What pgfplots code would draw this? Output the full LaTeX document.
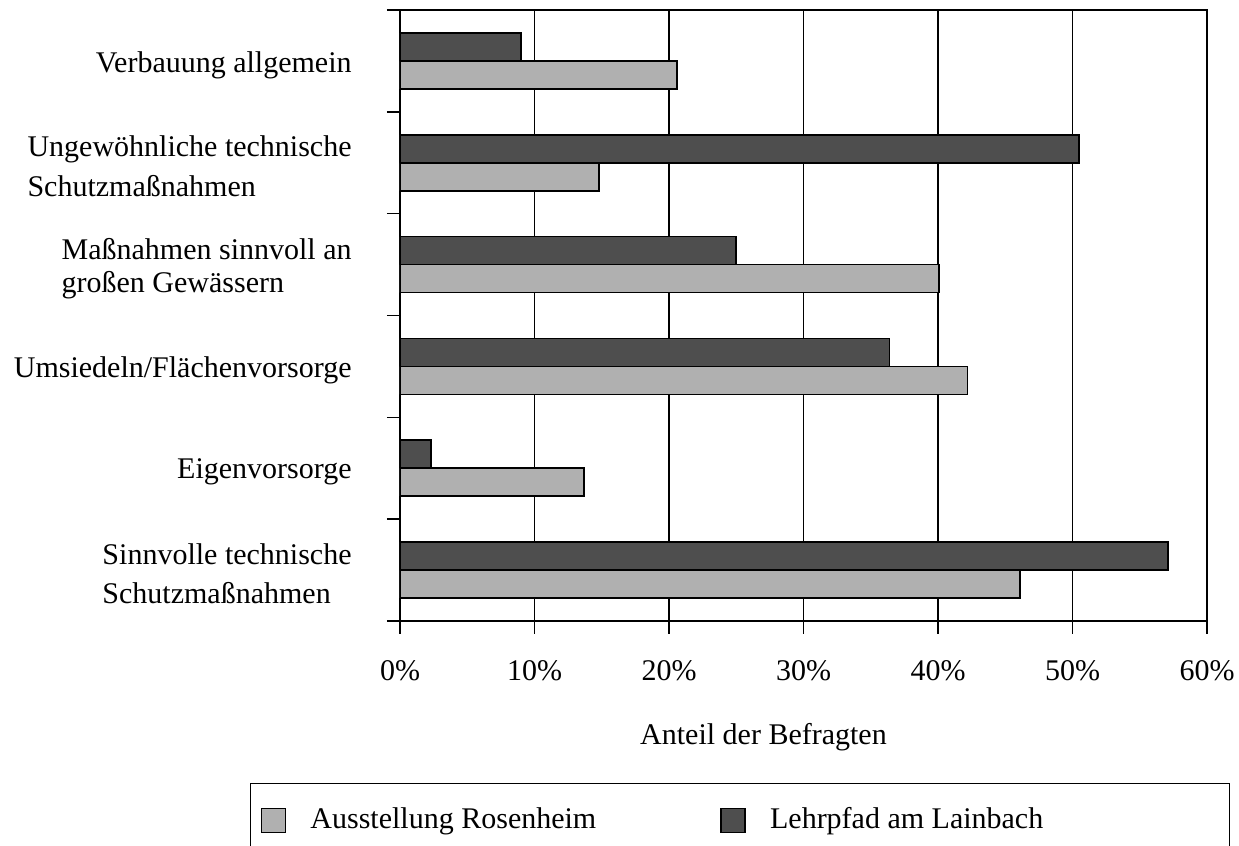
\documentclass[border=0pt]{standalone}
\usepackage{fontspec}
\setmainfont{Liberation Serif}
\usepackage{pgfplots}
\pgfplotsset{compat=1.18}
\definecolor{darkbar}{RGB}{78,78,78}
\definecolor{lightbar}{RGB}{176,176,176}
\pgfplotsset{sqlegend/.style={legend image code/.code={%
  \draw[##1] (0pt,-6pt) rectangle (12pt,6pt);
  \path (22pt,0pt);}}}
\begin{document}
\fontsize{15}{19.5}\selectfont
\begin{tikzpicture}
\begin{axis}[
  name=ax,
  scale only axis, width=403.5pt, height=305.5pt,
  xmin=0, xmax=60, ymin=-0.5, ymax=5.5,
  axis line style={black, line width=0.9pt},
  tick align=outside, tick pos=left,
  major tick length=6.5pt,
  every tick/.style={black, line width=0.8pt},
  xtick={0,10,...,60},
  xticklabels={0\%,10\%,20\%,30\%,40\%,50\%,60\%},
  xticklabel style={yshift=-8pt},
  xmajorgrids,
  major grid style={black, line width=0.7pt},
  ytick={-0.5,0.5,...,5.5},
  yticklabels={},
  extra y ticks={0,1,2,3,4,5},
  extra y tick labels={{Sinnvolle technische\\Schutzmaßnahmen},
    Eigenvorsorge,
    Umsiedeln/Flächenvorsorge,
    {Maßnahmen sinnvoll an\\[-3pt]großen Gewässern},
    {Ungewöhnliche technische\\[0.5pt]Schutzmaßnahmen},
    \raisebox{-6pt}{Verbauung allgemein}},
  extra y tick style={major tick length=0pt, grid=none,
    yticklabel style={align=left, anchor=east, xshift=-19pt, yshift=-2pt}},
  xlabel={Anteil der Befragten},
  xlabel style={xshift=-20pt, yshift=-11pt},
  legend columns=2,
  legend cell align=left,
  legend style={at={(-0.1859,-0.2651)}, anchor=north west,
    draw=black, line width=0.7pt, inner xsep=5pt, inner ysep=10pt,
    /tikz/every even column/.append style={column sep=60pt}},
]
\addplot[xbar, bar width=14pt, bar shift=-7pt, fill=lightbar, draw=black, line width=0.9pt, sqlegend]
  coordinates {(46.1,0) (13.7,1) (42.2,2) (40.1,3) (14.8,4) (20.6,5)};
\addlegendentry{Ausstellung Rosenheim}
\addplot[xbar, bar width=14pt, bar shift=7pt, fill=darkbar, draw=black, line width=0.9pt, sqlegend]
  coordinates {(57.1,0) (2.3,1) (36.4,2) (25.0,3) (50.5,4) (9.0,5)};
\addlegendentry{Lehrpfad am Lainbach\hspace*{86pt}}
\end{axis}
\pgfresetboundingbox
\path[use as bounding box] ([xshift=-200pt,yshift=-112.5pt]ax.south west) rectangle ([xshift=16pt,yshift=5pt]ax.north east);
\end{tikzpicture}
\end{document}
